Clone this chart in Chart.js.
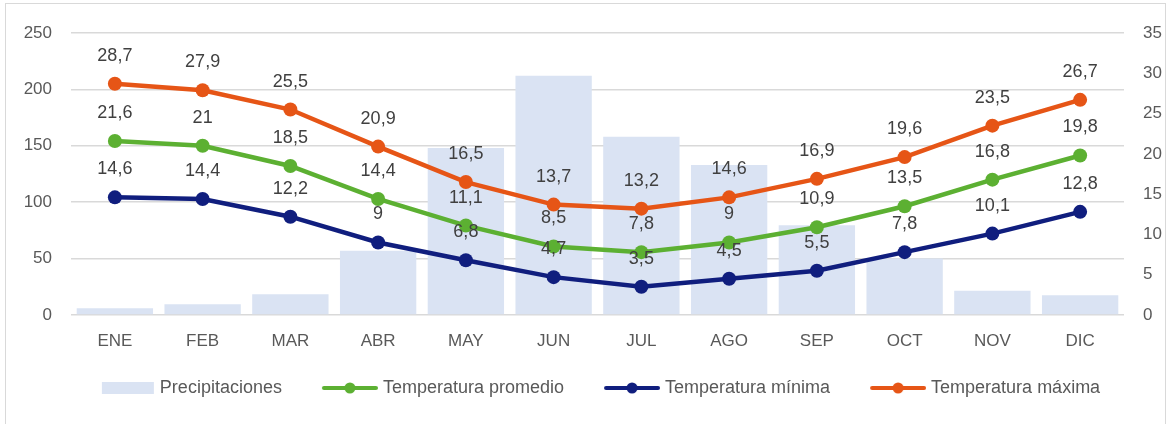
<!DOCTYPE html>
<html>
<head>
<meta charset="utf-8">
<script src="https://cdn.jsdelivr.net/npm/chart.js@4"></script>
<style>
  html, body { margin: 0; padding: 0; background: #fff; }
  #wrap { width: 1169px; height: 424px; position: relative; }
</style>
</head>
<body>
<div id="wrap"><canvas id="myChart"></canvas></div>
<script>
// valeurs
const meses = ['ENE', 'FEB', 'MAR', 'ABR', 'MAY', 'JUN', 'JUL', 'AGO', 'SEP', 'OCT', 'NOV', 'DIC'];
const precipitaciones = [6, 9.5, 18.5, 57, 148, 212, 158, 133, 79.5, 50, 21.5, 17.5];
const tempPromedio = [21.6, 21, 18.5, 14.4, 11.1, 8.5, 7.8, 9, 10.9, 13.5, 16.8, 19.8];
const tempMinima = [14.6, 14.4, 12.2, 9, 6.8, 4.7, 3.5, 4.5, 5.5, 7.8, 10.1, 12.8];
const tempMaxima = [28.7, 27.9, 25.5, 20.9, 16.5, 13.7, 13.2, 14.6, 16.9, 19.6, 23.5, 26.7];

const colBar = '#DAE3F3';
const colProm = '#5CB032';
const colMin = '#101E7E';
const colMax = '#E65516';
const fontFam = '"Liberation Sans Narrow", "Arial Narrow", "Liberation Sans", Arial, sans-serif';

// symboles de légende : zone vide à gauche pour l'espacement, symbole collé à droite
const ICON_W = 82;
function lineIcon(color) {
    const c = document.createElement('canvas');
    c.width = ICON_W + 8; c.height = 14;
    const x = c.getContext('2d');
    const x0 = c.width - 56;
    x.strokeStyle = color; x.lineWidth = 4; x.lineCap = 'round';
    x.beginPath(); x.moveTo(x0 + 2, 7); x.lineTo(c.width - 2, 7); x.stroke();
    x.fillStyle = color;
    x.beginPath(); x.arc(x0 + 28, 7, 5.5, 0, Math.PI * 2); x.fill();
    return c;
}
function boxIcon(color) {
    const c = document.createElement('canvas');
    c.width = ICON_W + 8; c.height = 12;
    const x = c.getContext('2d');
    x.fillStyle = color; x.fillRect(c.width - 53, 0, 52, 12);
    return c;
}

const valueLabels = {
    id: 'valueLabels',
    afterDatasetsDraw(chart) {
        const ctx = chart.ctx;
        ctx.save();
        ctx.font = '18px ' + fontFam;
        ctx.fillStyle = '#404040';
        ctx.textAlign = 'center';
        ctx.textBaseline = 'middle';
        chart.data.datasets.forEach((ds, i) => {
            if (ds.type !== 'line') return;
            const meta = chart.getDatasetMeta(i);
            meta.data.forEach((pt, j) => {
                const txt = String(ds.data[j]).replace('.', ',');
                ctx.fillText(txt, pt.x, pt.y - 28);
            });
        });
        ctx.restore();
    }
};

const frame = {
    id: 'frame',
    beforeDraw(chart) {
        const ctx = chart.ctx;
        ctx.save();
        ctx.strokeStyle = '#d9d9d9';
        ctx.lineWidth = 1;
        ctx.strokeRect(5.5, 3.5, 1160, 440);
        ctx.restore();
    }
};

const lineDs = (label, data, color) => ({
    type: 'line',
    label: label,
    data: data,
    yAxisID: 'y1',
    borderColor: color,
    backgroundColor: color,
    borderWidth: 4.5,
    pointRadius: 7,
    pointStyle: 'circle',
    pointBackgroundColor: color,
    pointBorderWidth: 0,
    tension: 0,
    order: 1,
    legendIcon: lineIcon(color)
});

const data = {
    labels: meses,
    datasets: [
        {
            type: 'bar',
            label: 'Precipitaciones',
            data: precipitaciones,
            backgroundColor: colBar,
            yAxisID: 'y',
            barPercentage: 0.87,
            categoryPercentage: 1,
            order: 2,
            legendIcon: boxIcon(colBar)
        },
        lineDs('Temperatura promedio', tempPromedio, colProm),
        lineDs('Temperatura mínima', tempMinima, colMin),
        lineDs('Temperatura máxima', tempMaxima, colMax)
    ]
};

const tickFont = { family: fontFam, size: 17 };

const options = {
    responsive: true,
    maintainAspectRatio: false,
    animation: false,
    layout: { padding: { top: 33, bottom: 17, left: 0, right: 0 } },
    scales: {
        x: {
            grid: { display: false },
            border: { display: false },
            ticks: { color: '#595959', font: tickFont, padding: 8 },
            afterFit: s => { s.height = 54; }
        },
        y: {
            position: 'left',
            min: 0, max: 250,
            ticks: { stepSize: 50, color: '#595959', font: tickFont, padding: 19 },
            grid: { color: '#d9d9d9', lineWidth: 1.5, drawTicks: false },
            border: { display: false },
            afterFit: s => { s.width = 71; }
        },
        y1: {
            position: 'right',
            min: 0, max: 35,
            ticks: { stepSize: 5, color: '#595959', font: tickFont, padding: 19 },
            grid: { display: false, drawTicks: false },
            border: { display: false },
            afterFit: s => { s.width = 45; }
        }
    },
    plugins: {
        tooltip: { enabled: false },
        legend: {
            position: 'bottom',
            labels: {
                usePointStyle: true,
                pointStyleWidth: ICON_W,
                boxHeight: 12,
                padding: 10,
                color: '#595959',
                font: { family: fontFam, size: 18 },
                generateLabels: chart => chart.data.datasets.map((ds, i) => ({
                    text: ds.label,
                    fillStyle: ds.backgroundColor,
                    strokeStyle: ds.backgroundColor,
                    lineWidth: 0,
                    pointStyle: ds.legendIcon,
                    datasetIndex: i,
                    hidden: false,
                    fontColor: '#595959'
                }))
            }
        }
    }
};

new Chart(document.getElementById('myChart'), {
    data: data,
    options: options,
    plugins: [frame, valueLabels]
});
</script>
</body>
</html>
